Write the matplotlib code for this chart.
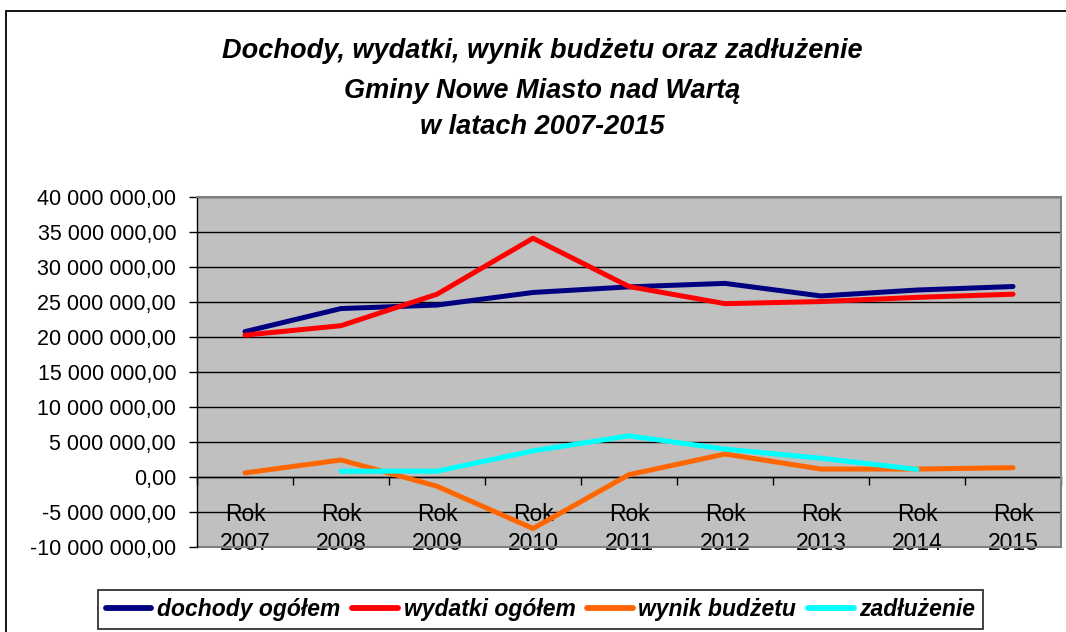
import numpy as np
import matplotlib
matplotlib.use("Agg")
import matplotlib.pyplot as plt
from matplotlib.patches import Rectangle
from matplotlib.ticker import FuncFormatter, FixedLocator

plt.rcParams['font.family'] = ['Liberation Sans', 'DejaVu Sans']

years = ["2007", "2008", "2009", "2010", "2011", "2012", "2013", "2014", "2015"]
tick_labels = ["Rok\n" + y for y in years]
dochody = [20.75e6, 24.05e6, 24.55e6, 26.35e6, 27.15e6, 27.65e6, 25.85e6, 26.7e6, 27.2e6]
wydatki = [20.25e6, 21.6e6, 26.1e6, 34.1e6, 27.2e6, 24.75e6, 25.05e6, 25.65e6, 26.1e6]
wynik = [0.55e6, 2.4e6, -1.35e6, -7.4e6, 0.3e6, 3.25e6, 1.1e6, 1.1e6, 1.3e6]
zadluzenie = [np.nan, 0.8e6, 0.8e6, 3.7e6, 5.85e6, 3.95e6, 2.65e6, 1.05e6, np.nan]

series = [
    ("dochody ogółem", dochody, "#000080"),
    ("wydatki ogółem", wydatki, "#FF0000"),
    ("wynik budżetu", wynik, "#FF6600"),
    ("zadłużenie", zadluzenie, "#00FFFF"),
]

W, H = 1066, 632
fig = plt.figure(figsize=(W / 100, H / 100), dpi=100)

# outer chart frame
fig.add_artist(Rectangle((6 / W, -0.2), 2, 1.2 - 11 / H, transform=fig.transFigure,
                         fill=False, ec='black', lw=1.3))

left, right, top, bottom = 197, 1061, 197, 546.7
ax = fig.add_axes([left / W, 1 - bottom / H, (right - left) / W, (bottom - top) / H])
ax.set_facecolor('#C0C0C0')

x = np.arange(len(years))
for name, vals, col in series:
    ax.plot(x, vals, color=col, lw=3.6, label=name, solid_capstyle='round', zorder=3)

ax.set_xlim(-0.5, len(years) - 0.5)
ax.set_ylim(-10e6, 40e6)
ax.set_yticks(np.arange(-10e6, 40e6 + 1, 5e6))


def fmt(v, pos):
    s = f"{abs(v):,.2f}".replace(",", " ").replace(".", ",")
    return ("-" if v < 0 else "") + s


ax.yaxis.set_major_formatter(FuncFormatter(fmt))
ax.grid(axis='y', color='black', lw=1.0, zorder=1)
ax.set_axisbelow(True)

# x axis at zero
for s in ['top', 'right']:
    ax.spines[s].set_color('#808080')
    ax.spines[s].set_linewidth(1.5)
ax.spines['left'].set_color('black')
ax.spines['left'].set_linewidth(1.0)
ax.spines['bottom'].set_position(('data', 0))
ax.spines['bottom'].set_color('black')
ax.spines['bottom'].set_linewidth(1.0)
ax.spines['bottom'].set_zorder(2)
# bottom border of the plot area
ax.axhline(-10e6, color='#808080', lw=1.5, zorder=2, clip_on=False)

ax.set_xticks(x)
ax.set_xticklabels(tick_labels, fontsize=16.5, linespacing=1.3)
ax.xaxis.set_minor_locator(FixedLocator(np.arange(-0.5, len(years), 1.0)))
ax.tick_params(axis='x', which='major', length=0, pad=19)
ax.tick_params(axis='x', which='minor', length=6, width=1, direction='out', color='black')
ax.tick_params(axis='y', which='major', length=6, width=1, direction='out', labelsize=15.5, pad=9)

# title
title_lines = ["Dochody, wydatki, wynik budżetu oraz zadłużenie",
               "Gminy Nowe Miasto nad Wartą",
               "w latach 2007-2015"]
baselines = [58, 98, 134]
for t, b in zip(title_lines, baselines):
    fig.text(542 / W, 1 - b / H, t, ha='center', va='baseline', fontsize=19.5,
             fontweight='bold', fontstyle='italic')

leg = fig.legend(loc='center', bbox_to_anchor=(540.5 / W, 1 - 609.5 / H), ncol=4,
                 frameon=True, fancybox=False, edgecolor='black',
                 prop={'size': 16.5, 'weight': 'bold', 'style': 'italic'},
                 handlelength=2.0, handletextpad=0.25, columnspacing=0.5,
                 borderpad=0.35, borderaxespad=0)
leg.get_frame().set_linewidth(1.3)
for h in leg.get_lines():
    h.set_linewidth(4.2)

fig.savefig("out.png", dpi=100)
